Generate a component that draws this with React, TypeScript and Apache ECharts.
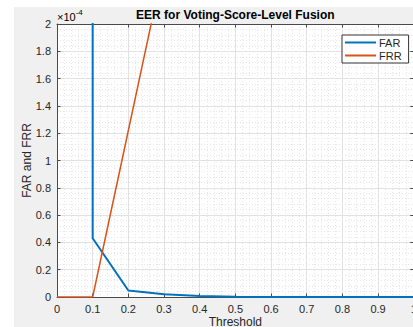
import React, { useEffect, useRef } from "react";
import * as echarts from "echarts";

// Threshold grid and error rates (rates expressed in units of 1e-4)
const thresholds = [0, 0.1, 0.2, 0.3, 0.4, 0.5, 0.6, 0.7, 0.8, 0.9, 1.0];
const farE4 = [10000, 0.43, 0.048, 0.02, 0.008, 0.002, 0, 0, 0, 0, 0];
const frrE4 = [0, 0, 1.22, 2.44, 20, 120, 600, 1800, 4500, 7500, 10000];
const xTicks = [0, 0.1, 0.2, 0.3, 0.4, 0.5, 0.6, 0.7, 0.8, 0.9, 1];
const yTicks = [0, 0.2, 0.4, 0.6, 0.8, 1, 1.2, 1.4, 1.6, 1.8, 2];

const FONT = "'Liberation Sans', Arial, Helvetica, sans-serif";
const TEXT = "#262626";
const AXIS = "#4a4a4a";

const GRID = { left: 57, top: 24, width: 356.7, height: 273 };

export default function App() {
  const ref = useRef<HTMLDivElement>(null);

  useEffect(() => {
    if (!ref.current) return;
    const chart = echarts.init(ref.current, undefined, { renderer: "svg" });

    const fmt = (v: number) => String(Math.round(v * 10) / 10);
    const cx = GRID.left + GRID.width / 2;

    const mainAxisCommon = {
      axisLine: { show: true, onZero: false, lineStyle: { color: AXIS, width: 1 } },
      axisTick: { show: true, inside: true, length: 3.5, lineStyle: { color: AXIS } },
      splitLine: { show: true, lineStyle: { color: "#e2e2e2", width: 1 } },
      minorTick: { show: false, splitNumber: 5 },
      minorSplitLine: { show: true, lineStyle: { color: "#e6e6e6", width: 1, type: [1, 2] } },
    };
    const mirrorAxisCommon = {
      axisLine: { show: true, onZero: false, lineStyle: { color: AXIS, width: 1 } },
      axisTick: { show: true, inside: true, length: 3.5, lineStyle: { color: AXIS } },
      axisLabel: { show: false },
      splitLine: { show: false },
    };

    chart.setOption({
      animation: false,
      backgroundColor: "transparent",
      grid: {
        ...GRID,
        show: true,
        backgroundColor: "#ffffff",
        borderWidth: 0,
        containLabel: false,
        outerBoundsMode: "none",
      },
      xAxis: [
        {
          type: "value",
          min: xTicks[0],
          max: xTicks[xTicks.length - 1],
          interval: 0.1,
          position: "bottom",
          ...mainAxisCommon,
          axisLabel: {
            color: TEXT,
            fontFamily: FONT,
            fontSize: 11,
            margin: 6,
            formatter: fmt,
          },
        },
        {
          type: "value",
          min: 0,
          max: 1,
          interval: 0.1,
          position: "top",
          ...mirrorAxisCommon,
        },
      ],
      yAxis: [
        {
          type: "value",
          min: yTicks[0],
          max: yTicks[yTicks.length - 1],
          interval: 0.2,
          position: "left",
          ...mainAxisCommon,
          axisLabel: {
            color: TEXT,
            fontFamily: FONT,
            fontSize: 11,
            margin: 6,
            formatter: fmt,
          },
        },
        {
          type: "value",
          min: 0,
          max: 2,
          interval: 0.2,
          position: "right",
          ...mirrorAxisCommon,
        },
      ],
      legend: {
        left: 342,
        top: 35,
        orient: "vertical",
        icon: "rect",
        itemWidth: 31,
        itemHeight: 2,
        itemGap: 2,
        padding: [2, 7, 2, 3],
        backgroundColor: "#ffffff",
        borderColor: "#333333",
        borderWidth: 1,
        borderRadius: 0,
        textStyle: { color: TEXT, fontFamily: FONT, fontSize: 11, padding: [0, 0, 0, -2] },
        data: ["FAR", "FRR"],
      },
      graphic: [
        {
          type: "text",
          x: cx,
          y: 15,
          style: {
            text: "EER for Voting-Score-Level Fusion",
            fill: "#000000",
            font: `bold 12px ${FONT}`,
            textAlign: "center",
            textVerticalAlign: "middle",
          },
        },
        {
          type: "text",
          x: cx,
          y: 322,
          style: {
            text: "Threshold",
            fill: TEXT,
            font: `12px ${FONT}`,
            textAlign: "center",
            textVerticalAlign: "middle",
          },
        },
        {
          type: "text",
          x: 27,
          y: GRID.top + GRID.height / 2,
          rotation: Math.PI / 2,
          style: {
            text: "FAR and FRR",
            fill: TEXT,
            font: `12px ${FONT}`,
            textAlign: "center",
            textVerticalAlign: "middle",
          },
        },
        {
          type: "text",
          x: 57,
          y: 22,
          style: {
            text: "{b|×10}{s|-4}",
            textVerticalAlign: "bottom",
            rich: {
              b: { fontFamily: FONT, fontSize: 11, color: TEXT, verticalAlign: "bottom" },
              s: {
                fontFamily: FONT,
                fontSize: 8,
                color: TEXT,
                verticalAlign: "top",
                padding: [0, 0, 6, 0],
              },
            },
          },
        },
      ],
      series: [
        {
          name: "FAR",
          type: "line",
          xAxisIndex: 0,
          yAxisIndex: 0,
          showSymbol: false,
          clip: true,
          color: "#0072BD",
          lineStyle: { color: "#0072BD", width: 2 },
          data: thresholds.map((t, i) => [t, farE4[i]]),
        },
        {
          name: "FRR",
          type: "line",
          xAxisIndex: 0,
          yAxisIndex: 0,
          showSymbol: false,
          clip: true,
          color: "#D95319",
          lineStyle: { color: "#D95319", width: 1.5 },
          data: thresholds.map((t, i) => [t, frrE4[i]]),
        },
      ],
    });

    return () => chart.dispose();
  }, []);

  return (
    <div style={{ position: "absolute", left: 0, top: 0, width: 413, height: 327, background: "#ffffff", overflow: "hidden" }}>
      <div style={{ position: "absolute", left: 14, top: 7, right: 0, bottom: 0, background: "#f0f0f0" }} />
      <div ref={ref} style={{ position: "absolute", left: 0, top: 0, width: 413, height: 327 }} />
    </div>
  );
}
